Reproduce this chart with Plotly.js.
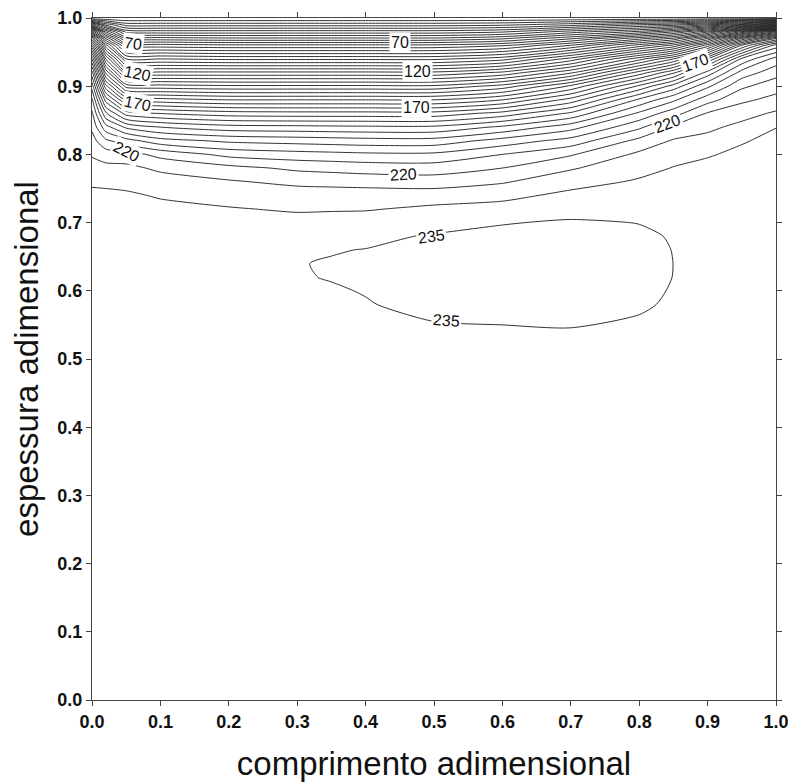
<!DOCTYPE html>
<html>
<head>
<meta charset="utf-8">
<script src="https://cdn.plot.ly/plotly-3.0.1.min.js"></script>
<style>
  html, body { margin: 0; padding: 0; background: #fff; }
  #plot { width: 797px; height: 782px; }
</style>
</head>
<body>
<div id="plot"></div>
<script>
// Grid of the temperature field: x = comprimento, y = espessura (both adimensional)
const xs = [0, 0.02, 0.05, 0.1, 0.2, 0.3, 0.35, 0.4, 0.5, 0.6, 0.7, 0.8, 0.85, 0.9, 0.95, 1.0];
const ys = [0, 0.2, 0.4, 0.5, 0.54, 0.58, 0.60, 0.62, 0.64, 0.66, 0.68, 0.7, 0.72, 0.74, 0.76,
            0.78, 0.8, 0.82, 0.84, 0.86, 0.88, 0.9, 0.92, 0.94, 0.96, 0.97, 0.98, 0.99, 1.0];

// Temperature profiles, one per x column, listed from y = 0 up to y = 1
const t000 = [232.1, 232.1, 232.1, 232.2, 232.2, 232.2, 232.2, 232.2, 232.15, 232.1, 232.05, 232, 231.6, 231, 229.3, 226.8, 224.5, 222, 219, 216, 211, 203, 192, 175, 150, 130, 100, 60, 20];
const t002 = [232.2, 232.2, 232.2, 232.3, 232.4, 232.4, 232.4, 232.4, 232.35, 232.3, 232.15, 232, 231.6, 230.9, 229.1, 226.5, 222.6, 216, 207, 196, 183, 167, 149, 130, 107, 90, 69, 44, 20];
const t005 = [232.2, 232.2, 232.3, 232.4, 232.5, 232.6, 232.6, 232.6, 232.5, 232.4, 232.2, 232, 231.5, 230.6, 228.8, 226.3, 222, 212, 199, 183, 164, 143, 121, 100, 78, 63, 48, 33, 20];
const t010 = [232.3, 232.4, 232.6, 232.9, 233, 233.1, 233.05, 233, 232.8, 232.6, 232.3, 231.9, 231.1, 229.6, 227.3, 224, 218.5, 207, 195, 180, 162, 142, 121, 100, 77, 62, 47, 33, 20];
const t020 = [232.4, 232.5, 232.8, 233.2, 233.4, 233.6, 233.6, 233.6, 233.35, 233, 232.4, 231.7, 230.3, 228.3, 225.5, 221.5, 213.5, 204, 192, 177.5, 160, 141, 121, 99, 76, 61, 47, 33, 20];
const t030 = [232.5, 232.6, 233.1, 233.7, 234, 234.45, 234.65, 234.88, 234.93, 234.6, 233.6, 231.5, 229.5, 227.5, 223.8, 219, 212, 203, 191.5, 177, 160, 141, 121, 99, 76, 61, 47, 33, 20];
const t035 = [232.5, 232.65, 233.2, 233.85, 234.2, 234.65, 234.85, 235.08, 235.12, 234.9, 234, 232, 229.55, 227.5, 223.4, 218.4, 211.5, 202.5, 191.2, 177, 160, 141, 121, 99, 76, 61, 47, 33, 20];
const t040 = [232.5, 232.7, 233.3, 234, 234.4, 234.9, 235.08, 235.4, 235.45, 235.05, 234.5, 232.5, 229.6, 227.5, 223, 217.8, 211, 202, 191, 177, 160, 141, 121, 99, 76, 61, 47, 33, 20];
const t050 = [232.5, 232.8, 233.5, 234.2, 234.7, 235.5, 235.8, 236, 236.05, 235.8, 235.2, 234.1, 231, 227.5, 222.5, 217.5, 211, 202, 191, 177, 160, 141, 121, 99, 76, 61, 47, 33, 20];
const t060 = [232.8, 233, 233.6, 234.2, 234.75, 235.75, 236.05, 236.25, 236.3, 236.1, 235.7, 234.85, 232, 228.5, 224.5, 220, 215, 207, 196, 182, 165, 147, 126, 103, 79, 64, 49, 34, 20];
const t070 = [233, 233.2, 233.7, 234.2, 234.85, 235.9, 236.15, 236.35, 236.4, 236.25, 235.95, 235.3, 234, 231.3, 228, 224.5, 219.5, 212, 203, 191, 177, 161, 139, 117, 90, 74, 57, 38, 20];
const t080 = [233, 233.1, 233.6, 234, 234.5, 235.3, 235.55, 235.75, 235.8, 235.65, 235.35, 234.95, 234.4, 233, 230.6, 228.3, 226, 221.5, 214, 206, 196, 181, 162, 138, 107, 88, 66, 45, 20];
const t085 = [232.9, 233, 233.4, 233.8, 234.2, 234.7, 234.85, 234.97, 234.99, 234.95, 234.85, 234.7, 234.2, 233.3, 232, 230.2, 228.3, 225.5, 221, 213, 204, 192, 174, 150, 116, 96, 74, 48, 20];
const t090 = [232.7, 232.8, 233.1, 233.4, 233.7, 234, 234.1, 234.2, 234.2, 234.2, 234.1, 234, 233.7, 233.2, 232.4, 231.2, 229.6, 226.8, 223.8, 220.5, 213, 204, 192, 170, 137, 115, 88, 55, 20];
const t095 = [232.5, 232.6, 232.9, 233.1, 233.3, 233.5, 233.55, 233.6, 233.6, 233.6, 233.55, 233.5, 233.4, 233.1, 232.7, 232, 231, 229.6, 226.5, 223, 219, 214, 207, 196, 170, 145, 110, 62, 20];
const t100 = [232.4, 232.5, 232.7, 232.9, 233, 233.1, 233.15, 233.2, 233.2, 233.2, 233.2, 233.2, 233.1, 233, 232.8, 232.5, 232, 231.2, 229.9, 225.8, 221.5, 218, 213, 207, 192, 170, 135, 75, 20];

const columns = [t000, t002, t005, t010, t020, t030, t035, t040, t050, t060, t070, t080, t085, t090, t095, t100];

// Isotherm levels: every 5 from 25 to 230, then the closed 235 curve
const levelStart = 25, levelEnd = 230, levelStep = 5;
const innerLevel = 235;

// Where the isotherm values are written along their curves
const labelSpots = [
  { level: 70,  x: 0.060, y: 0.962, angle: 8 },
  { level: 120, x: 0.066, y: 0.919, angle: 12 },
  { level: 170, x: 0.066, y: 0.874, angle: 12 },
  { level: 220, x: 0.050, y: 0.804, angle: 28 },
  { level: 70,  x: 0.450, y: 0.964, angle: 0 },
  { level: 120, x: 0.476, y: 0.921, angle: 0 },
  { level: 170, x: 0.474, y: 0.869, angle: 0 },
  { level: 220, x: 0.455, y: 0.771, angle: -3 },
  { level: 170, x: 0.883, y: 0.935, angle: -20 },
  { level: 220, x: 0.842, y: 0.845, angle: -20 },
  { level: 235, x: 0.496, y: 0.679, angle: -8 },
  { level: 235, x: 0.518, y: 0.557, angle: 4 }
];

const FONT = 'Arial, Liberation Sans, sans-serif';
const lineStyle = { color: '#1c1c1c', width: 0.9, smoothing: 0.7 };

function contourTrace(start, end, size) {
  return {
    type: 'contour',
    x: xs, y: ys, z: columns, transpose: true,
    showscale: false, hoverinfo: 'skip',
    contours: { coloring: 'none', start: start, end: end, size: size, showlabels: false },
    line: lineStyle
  };
}

const traces = [
  contourTrace(levelStart, levelEnd, levelStep),
  contourTrace(innerLevel, innerLevel, levelStep)
];

const annotations = labelSpots.map(s => ({
  x: s.x, y: s.y, xref: 'x', yref: 'y',
  text: String(s.level), showarrow: false, textangle: s.angle,
  font: { family: FONT, size: 16, color: '#111' },
  bgcolor: '#fff', borderpad: 1
}));

const tickFont = { family: FONT, size: 18, color: '#111', weight: 'bold' };
const axisCommon = {
  range: [0, 1], tick0: 0, dtick: 0.1, tickformat: '.1f',
  ticks: 'outside', ticklen: 5, tickwidth: 1, tickcolor: '#444',
  showline: true, linecolor: '#444', linewidth: 1, mirror: 'ticks',
  showgrid: false, zeroline: false, tickfont: tickFont
};

const layout = {
  width: 797, height: 782,
  margin: { l: 92, r: 21, t: 18, b: 82 },
  paper_bgcolor: '#fff', plot_bgcolor: '#fff',
  showlegend: false,
  annotations: annotations,
  xaxis: Object.assign({}, axisCommon, {
    title: { text: 'comprimento adimensional', standoff: 24,
             font: { family: FONT, size: 33, color: '#111' } }
  }),
  yaxis: Object.assign({}, axisCommon, {
    title: { text: 'espessura adimensional', standoff: 8,
             font: { family: FONT, size: 33, color: '#111' } }
  })
};

Plotly.newPlot('plot', traces, layout, { displayModeBar: false, staticPlot: true });
</script>
</body>
</html>
